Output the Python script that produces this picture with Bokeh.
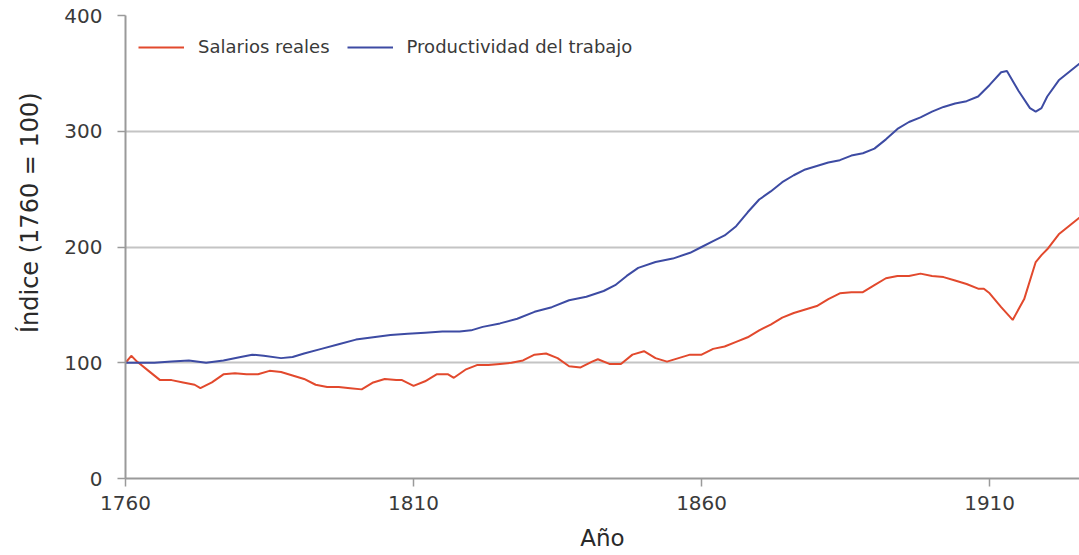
from bokeh.plotting import figure
from bokeh.models import Range1d, FixedTicker, Legend, LegendItem
from bokeh.embed import file_html
from bokeh.resources import INLINE

# ---- data ----
wage_years = [1760, 1761, 1762, 1764, 1766, 1768, 1770, 1772, 1773, 1775, 1777, 1779, 1781,
              1783, 1785, 1787, 1789, 1791, 1793, 1795, 1797, 1799, 1801, 1803, 1805, 1807,
              1808, 1810, 1812, 1814, 1816, 1817, 1819, 1821, 1823, 1825, 1827, 1829, 1831,
              1833, 1835, 1837, 1839, 1841, 1842, 1844, 1846, 1848, 1850, 1852, 1854, 1856,
              1858, 1860, 1862, 1864, 1866, 1868, 1870, 1872, 1874, 1876, 1878, 1880, 1882,
              1884, 1886, 1888, 1890, 1892, 1894, 1896, 1898, 1900, 1902, 1904, 1906, 1908,
              1909, 1910, 1912, 1914, 1916, 1918, 1919, 1920, 1922, 1924, 1926]
real_wages = [100, 106, 101, 93, 85, 85, 83, 81, 78, 83, 90, 91, 90,
              90, 93, 92, 89, 86, 81, 79, 79, 78, 77, 83, 86, 85,
              85, 80, 84, 90, 90, 87, 94, 98, 98, 99, 100, 102, 107,
              108, 104, 97, 96, 101, 103, 99, 99, 107, 110, 104, 101, 104,
              107, 107, 112, 114, 118, 122, 128, 133, 139, 143, 146, 149, 155,
              160, 161, 161, 167, 173, 175, 175, 177, 175, 174, 171, 168, 164,
              164, 160, 148, 137, 155, 187, 193, 198, 211, 219, 227]

prod_years = [1760, 1762, 1765, 1768, 1771, 1774, 1777, 1780, 1782, 1784, 1787, 1789, 1791,
              1794, 1797, 1800, 1803, 1806, 1809, 1812, 1815, 1818, 1820, 1822, 1825, 1828,
              1831, 1834, 1837, 1840, 1843, 1845, 1847, 1849, 1852, 1855, 1858, 1860, 1862,
              1864, 1866, 1868, 1870, 1872, 1874, 1876, 1878, 1880, 1882, 1884, 1886, 1888,
              1890, 1892, 1894, 1896, 1898, 1900, 1902, 1904, 1906, 1908, 1910, 1912, 1913,
              1915, 1917, 1918, 1919, 1920, 1922, 1924, 1926]
productivity = [100, 100, 100, 101, 102, 100, 102, 105, 107, 106, 104, 105, 108,
                112, 116, 120, 122, 124, 125, 126, 127, 127, 128, 131, 134, 138,
                144, 148, 154, 157, 162, 167, 175, 182, 187, 190, 195, 200, 205,
                210, 218, 230, 241, 248, 256, 262, 267, 270, 273, 275, 279, 281,
                285, 293, 302, 308, 312, 317, 321, 324, 326, 330, 340, 351, 352,
                335, 320, 317, 320, 330, 344, 352, 360]

x_ticks = [1760, 1810, 1860, 1910]
y_ticks = [0, 100, 200, 300, 400]

series_labels = ["Salarios reales", "Productividad del trabajo"]
x_title = "Año"
y_title = "Índice (1760 = 100)"

FONT = "DejaVu Sans"
RED = "#e2492d"
BLUE = "#3d4ba3"

p = figure(width=1079, height=555, output_backend="svg", toolbar_location=None,
           x_range=Range1d(1760, 1925.6), y_range=Range1d(0, 400),
           min_border_left=125, min_border_right=0, min_border_top=15, min_border_bottom=77)
p.outline_line_color = None
p.background_fill_color = "white"

r_wage = p.line(wage_years, real_wages, line_color=RED, line_width=2)
r_prod = p.line(prod_years, productivity, line_color=BLUE, line_width=2)

# axes
for ax in (p.xaxis[0], p.yaxis[0]):
    ax.axis_line_color = "#9a9a9a"
    ax.axis_line_width = 2
    ax.major_tick_line_color = "#9a9a9a"
    ax.major_tick_line_width = 1.5
    ax.major_tick_in = 0
    ax.major_tick_out = 8
    ax.minor_tick_line_color = None
    ax.major_label_text_font = FONT
    ax.major_label_text_font_size = "20px"
    ax.major_label_text_color = "#3a3a3a"
    ax.axis_label_text_font = FONT
    ax.axis_label_text_font_style = "normal"
    ax.axis_label_text_color = "#2a2a2a"

p.xaxis.ticker = FixedTicker(ticks=x_ticks)
p.yaxis.ticker = FixedTicker(ticks=y_ticks)
p.xaxis.major_label_standoff = 9
p.yaxis.major_label_standoff = 15
p.xaxis.axis_label = x_title
p.xaxis.axis_label_text_font_size = "23px"
p.xaxis.axis_label_standoff = 12

# y title: shifted upward along the axis with leading no-break spaces
p.yaxis.axis_label = "\u00a0" * 9 + y_title
p.yaxis.axis_label_text_font_size = "24px"
p.yaxis.axis_label_standoff = 17

p.xgrid.grid_line_color = None
p.ygrid.grid_line_color = "#c4c4c4"
p.ygrid.grid_line_width = 2

legend = Legend(items=[LegendItem(label=series_labels[0], renderers=[r_wage]),
                       LegendItem(label=series_labels[1], renderers=[r_prod])],
                orientation="horizontal", location=(13, 421),
                margin=0, padding=0, spacing=17,
                glyph_width=46, label_standoff=14,
                label_text_font=FONT, label_text_font_size="18px",
                label_text_color="#3a3a3a",
                border_line_color=None, background_fill_alpha=0)
p.add_layout(legend)

open("out.html", "w").write(file_html(p, INLINE))
